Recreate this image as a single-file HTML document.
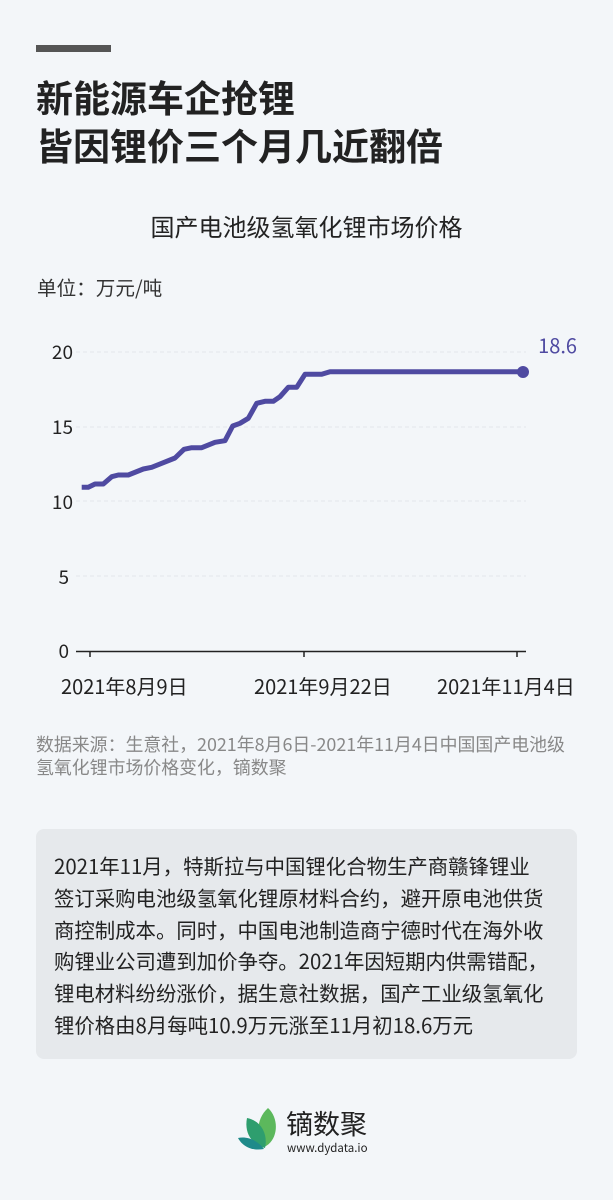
<!DOCTYPE html>
<html><head><meta charset="utf-8"><style>
body{margin:0;width:613px;height:1200px;background:#f3f6f9;font-family:"Noto Sans CJK SC","Liberation Sans",sans-serif;position:relative;overflow:hidden}
.a{position:absolute;white-space:nowrap}
</style></head><body>
<div class="a" style="left:36px;top:45px;width:75px;height:7px;background:#555"></div>
<div class="a" style="left:36px;top:72px;font-size:37px;font-weight:bold;color:#222;line-height:48px">新能源车企抢锂<br>皆因锂价三个月几近翻倍</div>
<div class="a" style="left:0;width:613px;text-align:center;top:210px;font-size:24px;line-height:32px;color:#222">国产电池级氢氧化锂市场价格</div>
<div class="a" style="left:37px;top:274px;font-size:19.6px;line-height:26px;color:#333">单位：万元/吨</div>
<svg class="a" style="left:0;top:0" width="613" height="720" font-family="Noto Sans CJK SC,Liberation Sans,sans-serif">
<g stroke="#e3e6ea" stroke-dasharray="4 3" stroke-width="1">
<line x1="76" x2="526" y1="352" y2="352"/><line x1="76" x2="526" y1="427" y2="427"/><line x1="76" x2="526" y1="501" y2="501"/><line x1="76" x2="526" y1="576" y2="576"/></g>
<line x1="76" x2="526" y1="651.5" y2="651.5" stroke="#222" stroke-width="1.5"/>
<g stroke="#222" stroke-width="1.5"><line x1="90" x2="90" y1="651" y2="657"/><line x1="304" x2="304" y1="651" y2="657"/><line x1="517" x2="517" y1="651" y2="657"/></g>
<g font-size="19" fill="#222" text-anchor="end"><text x="73" y="359">20</text><text x="73" y="434">15</text><text x="73" y="509">10</text><text x="69" y="584">5</text><text x="69" y="658">0</text></g>
<g font-size="20" fill="#222"><text x="61" y="694">2021年8月9日</text><text x="254" y="694">2021年9月22日</text><text x="437" y="694">2021年11月4日</text></g>
<polyline fill="none" stroke="#4f4aa1" stroke-width="5" stroke-linejoin="round" points="81.7,487.3 88.3,487.3 95,484 103.3,484 111.7,476.7 118.3,475 128.3,475 143.3,469 151.7,467.3 163.3,462.7 175,458 184,449.3 191.7,447.7 201.7,447.7 215,442.3 225,440.7 232.7,426 240,423.3 248.3,418.3 256.7,403.3 265,401.3 273.3,401.3 280,396.7 288.3,387.3 296.7,387.3 305,374.3 321.7,374.3 330,371.7 522.7,371.7"/>
<circle cx="523" cy="372" r="6" fill="#4f4aa1"/>
<text x="577" y="353" font-size="20" fill="#4f4aa1" text-anchor="end">18.6</text>
</svg>
<div class="a" style="left:36px;top:733px;font-size:17.9px;color:#888;line-height:23px">数据来源：生意社，2021年8月6日-2021年11月4日中国国产电池级<br>氢氧化锂市场价格变化，镝数聚</div>
<div class="a" style="left:36px;top:829px;width:541px;height:230px;background:#e6e9ec;border-radius:8px"></div>
<div class="a" style="left:54px;top:850px;font-size:20.4px;color:#222;line-height:31.8px">2021年11月，特斯拉与中国锂化合物生产商赣锋锂业<br>签订采购电池级氢氧化锂原材料合约，避开原电池供货<br>商控制成本。同时，中国电池制造商宁德时代在海外收<br>购锂业公司遭到加价争夺。2021年因短期内供需错配，<br>锂电材料纷纷涨价，据生意社数据，国产工业级氢氧化<br>锂价格由8月每吨10.9万元涨至11月初18.6万元</div>
<svg class="a" style="left:238px;top:1105px" width="42" height="46">
<path d="M30 3 C42 14 40 36 26 42 C18 30 18 14 30 3Z" fill="#5cb85c"/>
<path d="M9 13 C24 16 30 30 27 43 C14 40 6 28 9 13Z" fill="#2e9e6e"/>
<path d="M0 33 C10 31 20 36 26 44 C14 46 5 42 0 33Z" fill="#1f8a8a"/>
</svg>
<div class="a" style="left:286px;top:1105px;font-size:27px;line-height:36px;color:#222">镝数聚</div>
<div class="a" style="left:287px;top:1141px;font-size:11.5px;line-height:14px;color:#222">www.dydata.io</div>
</body></html>
